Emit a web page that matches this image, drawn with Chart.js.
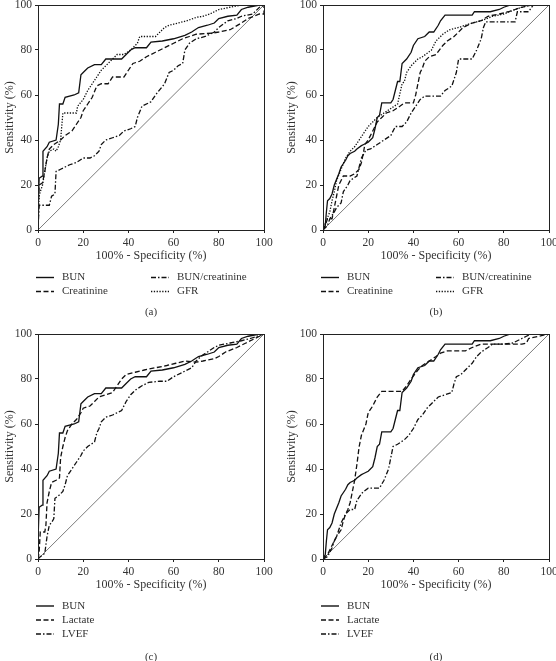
<!DOCTYPE html>
<html>
<head>
<meta charset="utf-8">
<script src="https://cdn.jsdelivr.net/npm/chart.js@4.4.1/dist/chart.umd.min.js"></script>
<style>
  html, body { margin: 0; padding: 0; background: #fff; overflow: hidden; width: 556px; height: 661px; }
  .panel { position: absolute; }
  .cap { position: absolute; font: 11px "Liberation Serif", serif; color: #333; transform: translate(-50%, -50%); }
</style>
</head>
<body>
<div class="panel" style="left:0;top:0"><canvas id="chartA" width="290" height="329"></canvas></div>
<div class="panel" style="left:285px;top:0"><canvas id="chartB" width="290" height="329"></canvas></div>
<div class="panel" style="left:0;top:329px"><canvas id="chartC" width="290" height="332"></canvas></div>
<div class="panel" style="left:285px;top:329px"><canvas id="chartD" width="290" height="332"></canvas></div>
<div class="cap" style="left:151px;top:311px">(a)</div>
<div class="cap" style="left:436px;top:311px">(b)</div>
<div class="cap" style="left:151px;top:656px">(c)</div>
<div class="cap" style="left:436px;top:656px">(d)</div>
<script>
// axis ticks (both axes, %)
const tickValues = [0, 20, 40, 60, 80, 100];
const diagonal = [[0, 0], [100, 100]];

// panel (a) / (c): [100% - specificity, sensitivity]
const bunA = [[0,0],[0,8],[0.5,23],[2,24],[2.2,35],[4,37],[5,39],[8,40],[9,47],[9.5,56],[11,56],[12,59],[16,60],[18,61],[19,69],[20,70],[22,72],[25,73.5],[28,73.5],[30,76],[37,76],[39,78],[41,80],[43,81],[48,81],[50,83.5],[55,84],[60,85],[65,86.5],[68,88],[71,90],[75,91],[78,92],[80,94],[84,95],[88,95.5],[90,98],[93,99],[98,100],[100,100]];
const creatA = [[0,0],[0,7],[0.5,20],[2,21],[3,26],[4,32],[5,36],[7,38],[10,40],[12,42],[15,44],[17,47],[19,50],[20,53],[22,56],[24,59],[26,64],[28,65],[31,65],[33,68],[38,68],[40,71],[42,74],[45,75],[48,77],[52,79],[56,81],[60,83],[64,85],[67,86],[70,87],[77,87.5],[80,88],[85,89],[90,92],[93,94],[98,96],[100,96],[100,100]];
const ratioA = [[0,0],[0.5,11],[5,11],[6,15],[7.5,16],[8,26],[10,27],[12,28],[14,29],[17,30],[20,32],[23,32],[25,33],[27,35],[28,38],[30,40],[33,41],[36,42],[38,44],[41,45],[43,46],[44,50],[46,55],[50,57],[52,60],[56,65],[58,70],[60,71],[62,73],[64,74],[65,80],[67,83],[70,85],[74,86],[78,88],[80,90],[84,93],[88,94],[90,95],[95,96],[98,99],[100,100]];
const gfrA = [[0,0],[0.5,15],[1,17],[2,20],[4,32],[5,35],[7,36],[8,35],[9,37],[10,40],[11,52],[17,52],[17.5,55],[20,58],[22,62],[24,65],[26,68],[28,71],[30,73],[33,76],[35,78],[38,78],[41,80],[43,82],[44,83],[45,86],[52,86],[54,88],[56,90],[58,91],[62,92],[66,93],[70,94.5],[73,95],[76,96],[78,97],[80,98],[85,99],[90,100],[100,100]];
const lactC = [[0,0],[0.5,3],[1,12],[3,12],[3.5,15],[4,25],[5,30],[6,34],[8,35],[9.5,36],[10,45],[11,50],[12,54],[13,57],[15,60],[17,62],[19,65],[20,67],[23,68],[25,70],[27,72],[30,73],[33,74],[35,77],[37,80],[39,82],[43,83],[47,84],[52,85],[57,86],[61,87],[65,88],[70,87.5],[73,88],[78,89],[80,90],[83,92],[88,94],[92,96],[96,98],[98,99],[100,100]];
const lvefC = [[0,0],[1,1],[3,2.5],[4,10],[5,15],[6.5,17],[7,18],[7.5,27],[9,28],[11,30],[12,33],[13,37],[15,40],[17,43],[19,46],[20,48],[22,50],[25,52],[26,56],[27,58],[28,61],[30,63],[33,64],[35,65],[37,66],[39,70],[41,73],[43,75],[46,77],[49,78.5],[54,79],[57,79],[60,81],[64,83],[68,85],[70,88],[72,90],[75,92],[78,94],[80,95],[85,96],[90,97],[94,98],[97,99],[100,100]];

// panel (b) / (d)
const bunB = [[0,0],[1,2],[1.5,8],[2,13],[3,14],[4,16],[5,20],[7,25],[8,28],[10,31],[11,33],[12,34],[14,35],[15,36],[17,37.5],[18,38],[20,39],[22,41],[23,45],[24,50],[25,51],[26,56.5],[30,56.5],[31,58],[32,62],[33,66],[34,66],[35,74],[37,76],[39,79],[40,82],[42,85],[45,86],[47,88],[49,88],[51,91],[52,93],[54,95.5],[66,95.5],[67,97],[74,97],[78,98],[80,99],[83,100],[100,100]];
const creatB = [[0,0],[1,2],[2,5],[4,5],[5,10],[6,15],[7,20],[8,22],[9,24],[12,24],[14,25],[16,27],[17,30],[18,35],[18.5,38],[20,40],[22,44],[24,48],[26,50],[28,52],[31,53],[34,55],[36,56.5],[40,56.5],[41,60],[42,65],[43,70],[44,72],[45,75],[47,77],[50,78],[53,82],[55,84],[58,86],[60,88],[62,90],[66,92],[70,93],[73,95],[78,96],[82,97],[85,98],[88,99],[92,100],[100,100]];
const ratioB = [[0,0],[2,2],[3,5],[5,8],[6,10],[8,12],[9,17],[11,20],[12,22],[15,24],[16,28],[17,32],[19,35.5],[21,36],[24,38],[27,40],[30,42],[32,46],[35,46],[37,48],[39,52],[41,55],[43,58],[45,59.5],[52,59.5],[54,62],[57,64],[59,70],[60,76],[66,76],[68,80],[70,85],[71,90],[72,92.5],[85,92.5],[86,97],[91,97],[93,100],[100,100]];
const gfrB = [[0,0],[1,3],[3,8],[4,13],[5,17],[6,22],[8,27],[10,32],[12,35],[14,37],[16,40],[18,43],[20,46],[22,48],[24,50],[27,52],[30,54],[33,56],[35,65],[36,66],[37,70],[39,73],[42,76],[44,77],[48,80],[50,84],[53,87],[56,89],[60,90],[66,92],[70,93],[75,95],[80,96],[85,98],[88,99],[92,100],[100,100]];
const lactD = [[0,0],[2,2],[3,4],[5,8],[6,10],[8,13],[9,17],[10,20],[11,22],[12,25],[13,30],[14,35],[15,42],[16,50],[17,55],[19,60],[20,65],[22,68],[24,72],[26,74.5],[35,74.5],[37,77],[39,80],[42,84],[44,86],[47,88],[50,90],[52,91.5],[55,92.5],[63,92.5],[66,94],[70,95.5],[88,95.5],[90,96],[91,98],[100,100]];
const lvefD = [[0,0],[2,1],[3,3],[4,5],[5,8],[6,10],[7,13],[8,16],[10,20],[12,22],[14,22],[15,26],[17,29],[18,30],[20,31.5],[25,31.5],[27,35],[29,40],[30,45],[31,50],[33,51],[36,53],[38,55],[40,58],[42,62],[44,64],[46,67],[49,70],[51,72],[54,73],[57,74],[58,78],[59,81],[61,82],[64,85],[66,87],[68,90],[70,92],[73,94],[75,95.5],[80,95.5],[84,96],[88,98],[90,99],[92,100],[100,100]];

const SOLID = [], DASH = [5, 2.5], DASHDOT = [5, 2, 1.5, 2], DOT = [1.3, 1.5];
const FONT = '"Liberation Serif", "Times New Roman", serif';

// draws the box round the plot area
const framePlugin = {
    id: 'frame',
    afterDatasetsDraw(chart) {
        const { left, top, right, bottom } = chart.chartArea;
        const ctx = chart.ctx;
        ctx.save();
        ctx.strokeStyle = '#222';
        ctx.lineWidth = 1;
        ctx.strokeRect(Math.round(left) + 0.5, Math.round(top) + 0.5, Math.round(right - left), Math.round(bottom - top));
        ctx.restore();
    }
};

// line-sample legend under the axis
const keyLegend = {
    id: 'keyLegend',
    afterDraw(chart, args, opts) {
        const ctx = chart.ctx;
        ctx.save();
        opts.items.forEach(it => {
            const ds = chart.data.datasets[it.ds];
            ctx.strokeStyle = '#111';
            ctx.lineWidth = 1.4;
            ctx.setLineDash(ds.borderDash);
            ctx.beginPath();
            ctx.moveTo(it.x, it.y);
            ctx.lineTo(it.x + 18, it.y);
            ctx.stroke();
            ctx.setLineDash([]);
            ctx.fillStyle = '#333';
            ctx.font = '11px ' + FONT;
            ctx.textBaseline = 'middle';
            ctx.fillText(ds.label, it.x + 26, it.y);
        });
        ctx.restore();
    }
};

function curve(label, pts, dash) {
    return {
        label: label,
        data: pts.map(p => ({ x: p[0], y: p[1] })),
        borderColor: '#111',
        borderWidth: 1.3,
        borderDash: dash,
        pointRadius: 0,
        tension: 0,
        fill: false
    };
}

function axis(title, isX, titlePad) {
    return {
        type: 'linear',
        min: 0,
        max: 100,
        afterBuildTicks: s => { s.ticks = tickValues.map(v => ({ value: v })); },
        afterFit: s => {
            if (isX) { s.height = 33; s.paddingLeft = 0; s.paddingRight = 0; }
            else { s.width = 38; s.paddingTop = 0; s.paddingBottom = 0; }
        },
        border: { display: false },
        grid: { drawOnChartArea: false, drawTicks: true, tickLength: 3, color: '#222' },
        ticks: { color: '#333', padding: 3, maxRotation: 0, font: { family: FONT, size: 11.5 } },
        title: { display: true, text: title, color: '#333', padding: { top: titlePad, bottom: 0 }, font: { family: FONT, size: 12 } }
    };
}

function makePanel(id, datasets, items, canvasH, yTitlePad) {
    datasets.push({
        label: '',
        data: diagonal.map(p => ({ x: p[0], y: p[1] })),
        borderColor: '#444',
        borderWidth: 0.7,
        borderDash: SOLID,
        pointRadius: 0,
        fill: false
    });
    new Chart(document.getElementById(id).getContext('2d'), {
        type: 'line',
        data: { datasets: datasets },
        options: {
            responsive: false,
            animation: false,
            layout: { padding: { left: 0, right: 26, top: 5, bottom: canvasH - 5 - 225 - 33 } },
            plugins: { legend: { display: false }, tooltip: { enabled: false }, keyLegend: { items: items } },
            scales: {
                x: axis('100% - Specificity (%)', true, 0),
                y: axis('Sensitivity (%)', false, yTitlePad)
            }
        },
        plugins: [framePlugin, keyLegend]
    });
}

const fourKey = [
    { ds: 0, x: 36, y: 277.5 }, { ds: 2, x: 151, y: 277.5 },
    { ds: 1, x: 36, y: 291.5 }, { ds: 3, x: 151, y: 291.5 }
];
const threeKey = [
    { ds: 0, x: 36, y: 277 }, { ds: 1, x: 36, y: 291 }, { ds: 2, x: 36, y: 305 }
];

makePanel('chartA', [
    curve('BUN', bunA, SOLID), curve('Creatinine', creatA, DASH),
    curve('BUN/creatinine', ratioA, DASHDOT), curve('GFR', gfrA, DOT)
], fourKey, 329, 3);
makePanel('chartB', [
    curve('BUN', bunB, SOLID), curve('Creatinine', creatB, DASH),
    curve('BUN/creatinine', ratioB, DASHDOT), curve('GFR', gfrB, DOT)
], fourKey, 329, 0);
makePanel('chartC', [
    curve('BUN', bunA, SOLID), curve('Lactate', lactC, DASH), curve('LVEF', lvefC, DASHDOT)
], threeKey, 332, 3);
makePanel('chartD', [
    curve('BUN', bunB, SOLID), curve('Lactate', lactD, DASH), curve('LVEF', lvefD, DASHDOT)
], threeKey, 332, 0);
</script>
</body>
</html>
